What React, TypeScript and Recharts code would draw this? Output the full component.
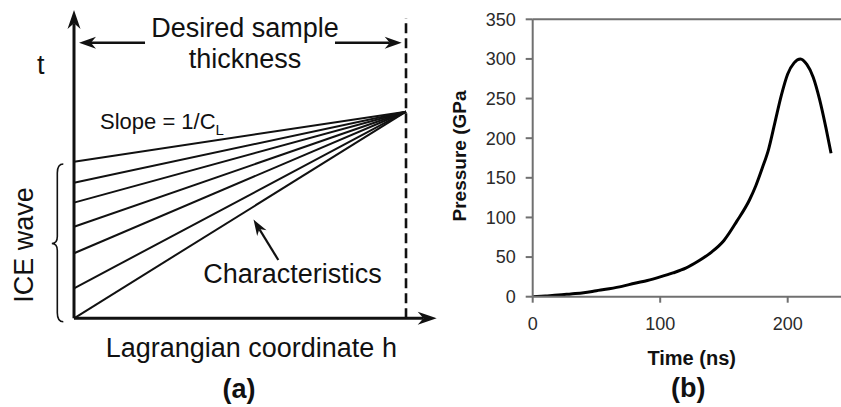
import React from 'react';
import {
  ComposedChart,
  LineChart,
  Line,
  XAxis,
  YAxis,
  ReferenceLine,
  ReferenceDot,
  Label,
} from 'recharts';

// panel (a): h in sample thicknesses, t in units of the common arrival time
const CHAR_START_T = [0, 0.145, 0.315, 0.443, 0.56, 0.656, 0.758];
const ARRIVAL = { h: 1, t: 1 };

// panel (b): ramp pressure history
const TIME_NS = [0, 10, 20, 30, 40, 50, 60, 70, 80, 90, 100, 110, 120, 130, 140, 150, 160, 170, 175, 180, 185, 190, 195, 200, 205, 210, 215, 220, 225, 230, 234];
const PRESSURE_GPA = [0, 1, 2, 3.5, 5, 7.5, 10, 13, 17, 20.5, 25, 30, 36, 45, 56, 71, 95, 122, 140, 162, 186, 220, 254, 281, 295, 300, 293, 277, 249, 213, 181];
const TIME_TICKS = [0, 100, 200];
const PRESSURE_TICKS = [0, 50, 100, 150, 200, 250, 300, 350];

const FONT = '"Liberation Sans", Arial, Helvetica, sans-serif';
const INK = '#111';
const FRAME = '#707070';

const pressureData = TIME_NS.map((t, i) => ({ t, p: PRESSURE_GPA[i] }));
const characteristics = CHAR_START_T.map((t0) => [{ h: 0, t: t0 }, { h: ARRIVAL.h, t: ARRIVAL.t }]);

// where things sit in the diagram (same units as above)
const H_DOMAIN = [-0.2229, 1.1325];
const T_DOMAIN = [-0.4293, 1.5407];
const T_AXIS_TOP = 1.4923;
const H_AXIS_END = 1.0925;
const DASH_TOP = 1.4535;

const arrowShape = (width: number, headLen: number, headHalf: number) => (props: any) => {
  const { x1, y1, x2, y2 } = props;
  const a = Math.atan2(y2 - y1, x2 - x1);
  const c = Math.cos(a);
  const s = Math.sin(a);
  const bx = x2 - headLen * c;
  const by = y2 - headLen * s;
  const nx = x2 - headLen * 0.7 * c;
  const ny = y2 - headLen * 0.7 * s;
  const p1 = `${bx - headHalf * s},${by + headHalf * c}`;
  const p2 = `${bx + headHalf * s},${by - headHalf * c}`;
  return (
    <g>
      <line x1={x1} y1={y1} x2={nx} y2={ny} stroke={INK} strokeWidth={width} />
      <polygon points={`${x2},${y2} ${p1} ${nx},${ny} ${p2}`} fill={INK} />
    </g>
  );
};

const braceShape = (props: any) => {
  const { x1, y1, y2 } = props;
  const xr = x1;
  const xm = x1 - 6;
  const xl = x1 - 11.5;
  const yt = Math.min(y1, y2);
  const yb = Math.max(y1, y2);
  const ym = yt + (yb - yt) * 0.504;
  const d = `M${xr},${yt} Q${xm},${yt} ${xm},${yt + 9} L${xm},${ym - 7} Q${xm},${ym} ${xl},${ym} Q${xm},${ym} ${xm},${ym + 7} L${xm},${yb - 9} Q${xm},${yb} ${xr},${yb}`;
  return <path d={d} fill="none" stroke={INK} strokeWidth={1.6} />;
};

const textShape = (content: React.ReactNode, opts: any = {}) => (props: any) => {
  const { cx, cy } = props;
  const { size = 27, anchor = 'middle', weight = 'normal', rotate = 0 } = opts;
  return (
    <text
      x={cx}
      y={cy}
      textAnchor={anchor}
      fontSize={size}
      fontWeight={weight}
      fontFamily={FONT}
      fill={INK}
      transform={rotate ? `rotate(${rotate} ${cx} ${cy})` : undefined}
    >
      {content}
    </text>
  );
};

const CharacteristicsDiagram = () => (
  <ComposedChart width={450} height={407} margin={{ top: 0, right: 0, bottom: 0, left: 0 }}>
    <XAxis dataKey="h" type="number" domain={H_DOMAIN} allowDataOverflow hide height={0} />
    <YAxis dataKey="t" type="number" domain={T_DOMAIN} allowDataOverflow hide width={0} />
    {characteristics.map((seg, i) => (
      <Line
        key={`char-${i}`}
        data={seg}
        dataKey="t"
        type="linear"
        stroke={INK}
        strokeWidth={2}
        dot={false}
        activeDot={false}
        legendType="none"
        isAnimationActive={false}
      />
    ))}
    <ReferenceLine
      segment={[{ x: ARRIVAL.h, y: 0 }, { x: ARRIVAL.h, y: DASH_TOP }]}
      stroke={INK}
      strokeWidth={2.6}
      strokeDasharray="10 5"
    />
    <ReferenceLine segment={[{ x: 0, y: 0 }, { x: 0, y: T_AXIS_TOP }]} shape={arrowShape(3, 19, 6.5)} />
    <ReferenceLine segment={[{ x: 0, y: 0 }, { x: H_AXIS_END, y: 0 }]} shape={arrowShape(3, 19, 6.5)} />
    <ReferenceLine segment={[{ x: 0.2139, y: 1.334 }, { x: 0.0151, y: 1.334 }]} shape={arrowShape(2.4, 17, 6)} />
    <ReferenceLine segment={[{ x: 0.7861, y: 1.334 }, { x: 0.987, y: 1.334 }]} shape={arrowShape(2.4, 17, 6)} />
    <ReferenceLine segment={[{ x: 0.6154, y: 0.2822 }, { x: 0.5407, y: 0.4782 }]} shape={arrowShape(2.2, 16, 5.5)} />
    <ReferenceLine segment={[{ x: -0.0322, y: 0.7469 }, { x: -0.0322, y: -0.0165 }]} shape={braceShape} />

    <ReferenceDot x={-0.1003} y={1.183} r={0} shape={textShape('t')} />
    <ReferenceDot x={0.515} y={1.363} r={0} shape={textShape('Desired sample')} />
    <ReferenceDot x={0.515} y={1.21} r={0} shape={textShape('thickness')} />
    <ReferenceDot
      x={0.0783}
      y={0.9163}
      r={0}
      shape={textShape(
        <>
          Slope = 1/C
          <tspan fontSize={15} dy={6}>L</tspan>
        </>,
        { size: 22, anchor: 'start' }
      )}
    />
    <ReferenceDot x={0.6581} y={0.1709} r={0} shape={textShape('Characteristics')} />
    <ReferenceDot x={0.534} y={-0.1859} r={0} shape={textShape('Lagrangian coordinate h')} />
    <ReferenceDot x={0.497} y={-0.3858} r={0} shape={textShape('(a)', { weight: 'bold' })} />
    <ReferenceDot x={-0.1226} y={0.3548} r={0} shape={textShape('ICE wave', { rotate: -90 })} />
  </ComposedChart>
);

// chart (b) starts at page x = 440
const PressureChart = () => (
  <LineChart
    width={420}
    height={407}
    data={pressureData}
    margin={{ top: 19.3, right: 8.55, left: 0, bottom: 70.3 }}
  >
    <XAxis
      dataKey="t"
      type="number"
      domain={[0, 250]}
      ticks={TIME_TICKS}
      allowDataOverflow
      height={40}
      tickSize={6}
      tickMargin={15}
      stroke={FRAME}
      strokeWidth={2}
      tick={{ fill: '#2a2a2a', fontSize: 18, fontFamily: FONT }}
    >
      <Label
        content={() => (
          <g>
            <text x={251.7} y={365} textAnchor="middle" fontSize={20} fontWeight="bold" fontFamily={FONT} fill={INK}>
              Time (ns)
            </text>
            <text x={248.3} y={397} textAnchor="middle" fontSize={27} fontWeight="bold" fontFamily={FONT} fill={INK}>
              (b)
            </text>
          </g>
        )}
      />
    </XAxis>
    <YAxis
      type="number"
      domain={[0, 350]}
      ticks={PRESSURE_TICKS}
      allowDataOverflow
      width={92.7}
      tickSize={7}
      tickMargin={10}
      stroke={FRAME}
      strokeWidth={2}
      tick={{ fill: '#2a2a2a', fontSize: 18, fontFamily: FONT }}
    >
      <Label
        content={() => (
          <text
            x={26}
            y={156}
            textAnchor="middle"
            fontSize={19}
            fontWeight="bold"
            fontFamily={FONT}
            fill={INK}
            transform="rotate(-90 26 156)"
          >
            Pressure (GPa
          </text>
        )}
      />
    </YAxis>
    <ReferenceLine y={350} stroke={FRAME} strokeWidth={2} />
    <ReferenceLine x={250} stroke={FRAME} strokeWidth={2} />
    <Line
      dataKey="p"
      type="monotone"
      stroke="#000"
      strokeWidth={3}
      dot={false}
      activeDot={false}
      isAnimationActive={false}
    />
  </LineChart>
);

export default function App() {
  return (
    <div
      style={{
        position: 'absolute',
        left: 0,
        top: 0,
        width: 841,
        height: 407,
        overflow: 'hidden',
        background: '#fff',
      }}
    >
      <div style={{ position: 'absolute', left: 0, top: 0 }}>
        <CharacteristicsDiagram />
      </div>
      <div style={{ position: 'absolute', left: 440, top: 0 }}>
        <PressureChart />
      </div>
    </div>
  );
}
